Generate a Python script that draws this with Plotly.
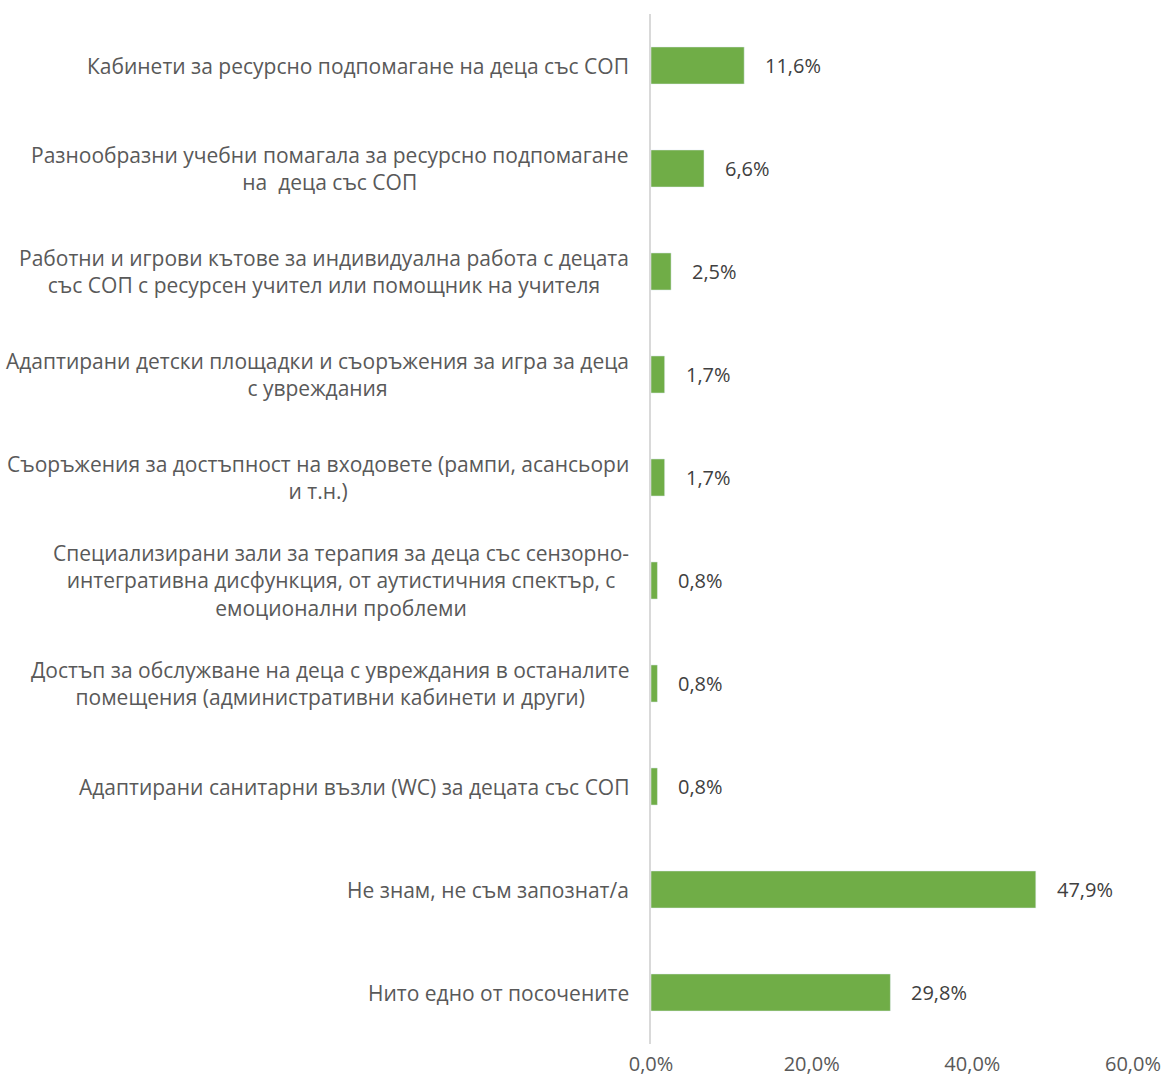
import plotly.graph_objects as go

categories = [
    "Кабинети за ресурсно подпомагане на деца със СОП",
    "Разнообразни учебни помагала за ресурсно подпомагане<br>на  деца със СОП",
    "Работни и игрови кътове за индивидуална работа с децата<br>със СОП с ресурсен учител или помощник на учителя",
    "Адаптирани детски площадки и съоръжения за игра за деца<br>с увреждания",
    "Съоръжения за достъпност на входовете (рампи, асансьори<br>и т.н.)",
    "Специализирани зали за терапия за деца със сензорно-<br>интегративна дисфункция, от аутистичния спектър, с<br>емоционални проблеми",
    "Достъп за обслужване на деца с увреждания в останалите<br>помещения (административни кабинети и други)",
    "Адаптирани санитарни възли (WC) за децата със СОП",
    "Не знам, не съм запознат/а",
    "Нито едно от посочените",
]
values = [0.116, 0.066, 0.025, 0.017, 0.017, 0.008, 0.008, 0.008, 0.479, 0.298]
tick_vals = [0, 0.2, 0.4, 0.6]

FONT = "Open Sans"
ids = list(range(len(categories)))

fig = go.Figure(go.Bar(
    y=ids, x=values, orientation="h",
    marker=dict(color="#70AD47"),
    width=0.36,
    hoverinfo="skip",
))

annotations = []
for i, (c, v) in enumerate(zip(categories, values)):
    annotations.append(dict(
        x=0, y=i, xref="paper", yref="y", text=c, showarrow=False,
        xanchor="right", yanchor="middle", align="center", xshift=-20,
        font=dict(family=FONT, size=21, color="#595959"),
    ))
    annotations.append(dict(
        x=v, y=i, xref="x", yref="y", text=f"{v*100:.1f}%".replace(".", ","),
        showarrow=False, xanchor="left", yanchor="middle", xshift=19,
        font=dict(family=FONT, size=20, color="#404040"),
    ))

fig.update_layout(
    width=1170, height=1082,
    margin=dict(l=651, r=37, t=14, b=38, autoexpand=False),
    paper_bgcolor="white", plot_bgcolor="white",
    showlegend=False,
    separators=",.",
    annotations=annotations,
    xaxis=dict(
        range=[0, 0.6], tickvals=tick_vals, tickformat=".1%",
        showgrid=False, zeroline=False, showline=False,
        tickfont=dict(family=FONT, size=20, color="#595959"),
        ticks="", ticklabelstandoff=6, automargin=False,
    ),
    yaxis=dict(
        range=[len(categories) - 0.5, -0.5],
        showticklabels=False, showgrid=False, zeroline=False,
        showline=True, linecolor="#D9D9D9", linewidth=2,
        ticks="", automargin=False,
    ),
)

fig.write_html(
    "out.html",
    config={"displayModeBar": False},
    post_script="document.body.style.margin='0';document.body.style.overflow='hidden';",
)
